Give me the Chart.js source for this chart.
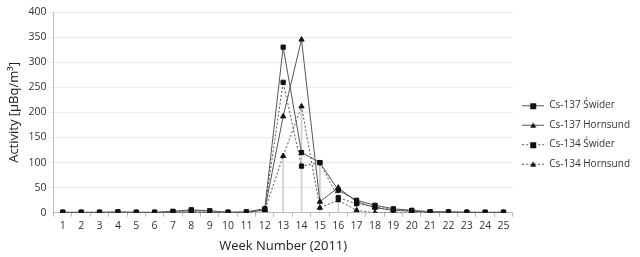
<!DOCTYPE html>
<html>
<head>
<meta charset="utf-8">
<script src="https://cdn.jsdelivr.net/npm/chart.js@4"></script>
<style>
  html, body { margin: 0; padding: 0; background: #fff; }
  #wrap { width: 640px; height: 257px; }
</style>
</head>
<body>
<div id="wrap"><canvas id="chart"></canvas></div>
<script>
// week numbers
const weeks = ["1","2","3","4","5","6","7","8","9","10","11","12","13","14","15","16","17","18","19","20","21","22","23","24","25"];

// activity values
const cs137Swider    = [1, 1, 1, 2, 1, 1, 3, 6, 4, 1, 2, 8, 330, 120, 100, 45, 25, 15, 8, 5, 2, 2, 1, 1, 1];
const cs137Hornsund  = [0, 0, 0, 0, 0, 0, 1, 2, 1, 0, 1, 6, 192, 345, 22, 50, 22, 10, 5, 3, 1, 1, 1, 0, 0];
const cs134Swider    = [1, 1, 1, 1, 1, 1, 2, 5, 3, 1, 1, 7, 260, 93, 100, 30, 18, 12, 6, 4, 2, 1, 1, 1, 1];
const cs134Hornsund  = [0, 0, 0, 0, 0, 0, 0, 1, 0, 0, 0, 5, 113, 212, 10, 25, 5, 0, 0, 0, 0, 0, 0, 0, 0];

// light vertical drop lines under the peak weeks
const dropLines = [null, null, null, null, null, null, null, null, null, null, null, null, 113, 212, 100, 45, null, null, null, null, null, null, null, null, null];

const seriesNames = ["Cs-137 Świder", "Cs-137 Hornsund", "Cs-134 Świder", "Cs-134 Hornsund"];

const lineCol = "#555";
const markCol = "#111";
const dots = [2, 2];

function legendIcon(marker, dashed) {
  const c = document.createElement("canvas");
  c.width = 22; c.height = 10;
  const g = c.getContext("2d");
  g.strokeStyle = lineCol;
  g.lineWidth = 1;
  if (dashed) g.setLineDash(dots);
  g.beginPath(); g.moveTo(0, 5.5); g.lineTo(22, 5.5); g.stroke();
  g.fillStyle = markCol;
  if (marker === "rect") {
    g.fillRect(8, 3, 6, 6);
  } else {
    g.beginPath(); g.moveTo(11, 2.5); g.lineTo(14, 8); g.lineTo(8, 8); g.closePath(); g.fill();
  }
  return c;
}

function lineSet(label, data, marker, dashed) {
  return {
    type: "line",
    label: label,
    data: data,
    borderColor: lineCol,
    borderWidth: 1,
    borderDash: dashed ? dots : [],
    backgroundColor: markCol,
    pointBackgroundColor: markCol,
    pointBorderColor: markCol,
    pointStyle: marker === "rect" ? "rect" : "triangle",
    pointRadius: 3,
    pointBorderWidth: 1,
    tension: 0,
    fill: false,
    order: 1,
    _icon: legendIcon(marker, dashed)
  };
}

Chart.defaults.font.family = "'Open Sans', 'DejaVu Sans', sans-serif";
Chart.defaults.color = "#333";

new Chart(document.getElementById("chart"), {
  type: "line",
  data: {
    labels: weeks,
    datasets: [
      lineSet(seriesNames[0], cs137Swider, "rect", false),
      lineSet(seriesNames[1], cs137Hornsund, "tri", false),
      lineSet(seriesNames[2], cs134Swider, "rect", true),
      lineSet(seriesNames[3], cs134Hornsund, "tri", true),
      {
        type: "bar",
        label: "drop",
        data: dropLines,
        backgroundColor: "#cfcfcf",
        barThickness: 1,
        order: 5
      }
    ]
  },
  options: {
    responsive: true,
    maintainAspectRatio: false,
    animation: false,
    layout: { padding: { top: 12, right: 0, left: 2, bottom: 0 } },
    plugins: {
      tooltip: { enabled: false },
      legend: {
        position: "right",
        labels: {
          usePointStyle: true,
          pointStyleWidth: 22,
          padding: 9.5,
          font: { size: 10 },
          color: "#333",
          filter: item => item.datasetIndex < 4,
          generateLabels: chart => chart.data.datasets.slice(0, 4).map((ds, i) => ({
            text: ds.label,
            pointStyle: ds._icon,
            datasetIndex: i,
            hidden: false,
            lineWidth: 0,
            strokeStyle: "transparent",
            fillStyle: "transparent",
            fontColor: "#333"
          }))
        }
      }
    },
    scales: {
      x: {
        offset: true,
        grid: { display: true, drawOnChartArea: false, offset: true, tickLength: 4, color: "#bbb" },
        border: { color: "#bbb" },
        ticks: { font: { size: 10.5 }, color: "#333", maxRotation: 0, autoSkip: false },
        title: { display: true, text: "Week Number (2011)", font: { size: 13 }, color: "#222", padding: { top: 3, bottom: 3 } }
      },
      y: {
        min: 0,
        max: 400,
        ticks: { stepSize: 50, font: { size: 10.5 }, color: "#333" },
        grid: { color: "#ececec", tickLength: 4 },
        border: { color: "#bbb" },
        title: { display: true, text: "Activity [µBq/m³]", font: { size: 13 }, color: "#222" }
      }
    }
  }
});
</script>
</body>
</html>
